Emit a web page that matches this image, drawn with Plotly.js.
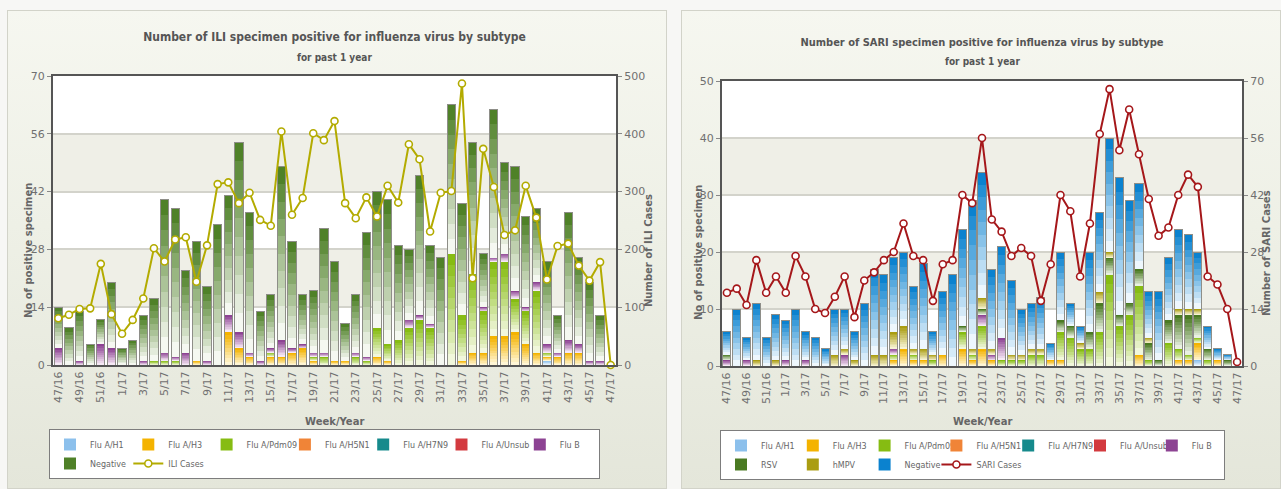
<!DOCTYPE html>
<html>
<head>
<meta charset="utf-8">
<script src="https://cdn.plot.ly/plotly-3.0.1.min.js"></script>
<style>
  html, body { margin:0; padding:0; width:1281px; height:489px; overflow:hidden; background:#f7f7f5; }
  .panel { position:absolute; top:10px; height:479px;
    background:linear-gradient(to bottom, #f6f7f0 0%, #eef0e6 45%, #e4e6da 100%);
    box-shadow: inset 0 0 0 1px #d2d3c9; }
  #ili { left:7px; width:660px; }
  #sari { left:681px; width:600px; }
</style>
</head>
<body>
<div id="ili" class="panel"></div>
<div id="sari" class="panel"></div>
<script>
// ---------- categories ----------
const weeks = ['47/16','48/16','49/16','50/16','51/16','52/16',
  '1/17','2/17','3/17','4/17','5/17','6/17','7/17','8/17','9/17','10/17',
  '11/17','12/17','13/17','14/17','15/17','16/17','17/17','18/17','19/17','20/17',
  '21/17','22/17','23/17','24/17','25/17','26/17','27/17','28/17','29/17','30/17',
  '31/17','32/17','33/17','34/17','35/17','36/17','37/17','38/17','39/17','40/17',
  '41/17','42/17','43/17','44/17','45/17','46/17','47/17'];
const weekTicks = ['47/16','49/16','51/16','1/17','3/17','5/17','7/17','9/17','11/17','13/17',
  '15/17','17/17','19/17','21/17','23/17','25/17','27/17','29/17','31/17','33/17',
  '35/17','37/17','39/17','41/17','43/17','45/17','47/17'];

// ---------- ILI chart values ----------
const NONE      = [0,0,0,0,0,0,0,0,0,0, 0,0,0,0,0,0,0,0,0,0, 0,0,0,0,0,0,0,0,0,0, 0,0,0,0,0,0,0,0,0,0, 0,0,0,0,0,0,0,0,0,0, 0,0,0];
const iliH1     = [0,0,0,0,0,0,0,0,0,0, 0,0,0,0,0,0,0,0,0,0, 0,0,0,0,0,0,0,0,0,0, 0,0,0,0,0,0,0,0,0,0, 0,0,0,0,0,0,1,0,0,0, 0,0,0];
const iliH3     = [0,0,0,0,0,0,0,0,0,0, 0,0,0,1,0,0,8,4,2,0, 2,2,3,4,1,0,1,1,0,0, 2,1,0,0,0,0,0,0,1,3, 3,7,7,8,5,3,1,2,3,3, 0,0,0];
const iliPdm09  = [0,0,0,0,0,0,0,0,0,1, 1,1,0,0,0,0,0,0,0,0, 1,0,0,0,1,2,0,0,2,1, 7,4,6,9,11,9,0,27,11,19, 10,18,18,8,8,15,1,0,0,0, 0,0,0];
const iliFluB   = [4,0,1,0,5,4,0,0,1,0, 2,1,3,0,1,0,4,4,1,1, 1,4,1,1,1,1,0,0,1,1, 0,0,0,2,1,1,0,0,0,0, 1,1,2,2,1,2,2,1,3,2, 1,1,0];
const iliNeg    = [10,9,12,5,6,16,4,6,11,15, 37,36,20,29,18,34,29,46,34,12, 13,42,26,12,15,30,24,9,14,30, 33,35,23,17,34,19,26,36,27,32, 13,36,22,30,22,18,20,9,31,21, 19,11,0];
const iliTotal  = [14,9,13,5,11,20,4,6,12,16, 40,38,23,30,19,34,41,54,37,13, 17,48,30,17,18,33,25,10,17,32, 42,40,29,28,46,29,26,63,39,54, 27,62,49,48,36,38,25,12,37,26, 20,12,0];
const iliCases  = [81,87,97,98,175,88,54,78,115,202, 179,217,221,144,207,313,316,280,298,251, 241,404,260,289,401,389,422,280,254,290, 257,310,281,382,356,231,298,301,487,150, 374,308,225,233,310,255,148,206,210,172, 146,178,0];
const iliLeftTicks  = [0,14,28,42,56,70];
const iliRightTicks = [0,100,200,300,400,500];

// ---------- SARI chart values ----------
const sariH1    = [0,0,0,0,0,0,0,0,0,0, 0,0,0,0,0,0,0,0,0,0, 0,0,0,0,0,0,0,0,0,0, 0,0,0,0,0,0,0,0,0,0, 0,0,0,0,0,0,0,0,1,0, 0,0,0];
const sariH3    = [0,0,0,0,0,0,0,0,0,0, 0,0,0,0,0,0,0,1,3,1, 1,0,2,0,3,1,3,1,0,0, 0,0,0,1,1,0,0,0,0,0, 0,0,2,0,0,0,1,1,3,0, 1,0,0];
const sariPdm09 = [0,0,0,0,0,0,0,0,0,0, 0,0,0,0,0,0,0,1,0,1, 0,1,0,0,3,1,4,0,1,1, 1,2,2,0,5,5,3,3,6,16, 7,9,12,1,0,4,2,1,1,1, 0,0,0];
const sariFluB  = [1,0,1,0,0,0,1,0,1,0, 0,0,2,0,0,0,0,1,0,0, 0,0,0,0,0,0,2,1,4,0, 0,0,0,0,0,0,0,0,0,0, 0,0,0,0,0,0,0,0,0,0, 0,0,0];
const sariRSV   = [1,0,0,0,0,0,0,0,0,0, 0,0,0,0,0,0,0,0,0,0, 0,0,0,0,1,0,1,0,0,0, 0,0,0,0,2,2,0,3,5,3, 2,2,3,3,1,4,6,7,4,2, 0,1,0];
const sariHMPV  = [0,0,0,1,0,1,0,0,0,0, 0,2,1,1,0,2,2,3,4,1, 2,1,0,0,0,1,2,1,0,1, 1,1,1,0,0,0,1,0,2,1, 0,0,0,1,0,0,1,1,1,0, 0,0,0];
const sariNeg   = [4,10,4,10,5,8,7,10,5,5, 3,8,7,5,11,15,14,13,13,11, 15,4,11,16,17,26,22,14,16,13, 8,8,9,3,12,4,3,14,14,20, 24,18,15,8,12,11,14,13,10,4, 2,1,0];
const sariTotal = [6,10,5,11,5,9,8,10,6,5, 3,10,10,6,11,17,16,19,20,14, 18,6,13,16,24,29,34,17,21,15, 10,11,12,4,20,11,7,20,27,40, 33,29,32,13,13,19,24,23,20,7, 3,2,0];
const sariCases = [18,19,15,26,18,22,18,27,22,14, 13,17,22,12,21,23,26,28,35,27, 26,16,25,26,42,40,56,36,33,27, 29,27,16,25,42,38,22,35,57,68, 53,63,52,41,32,34,42,47,44,22, 20,14,1];
const sariLeftTicks  = [0,10,20,30,40,50];
const sariRightTicks = [0,14,28,42,56,70];

// ---------- drawing helpers ----------
const STEPS = 10;   // vertical gradient steps per stacked segment
function hex(c){ c = c.replace('#',''); return [0,2,4].map(i => parseInt(c.slice(i,i+2),16)); }
function mix(a,b,t){ const A = hex(a), B = hex(b); return 'rgb(' + A.map((v,i) => Math.round(v + (B[i]-v)*t)).join(',') + ')'; }

const LABEL_FONT = 'DejaVu Sans, Verdana, sans-serif';
const TITLE_FONT = "'DejaVu Sans Condensed', 'Liberation Sans', sans-serif";

function drawChart(id, o){
  const m = o.margin, pw = o.W - m.l - m.r, ph = o.H - m.t - m.b;
  const px = x => (x - m.l) / pw, py = y => 1 - (y - m.t) / ph;
  const data = [];
  o.series.forEach(s => {
    for (let k = 0; k < STEPS; k++) {
      const t = k / (STEPS - 1);
      data.push({
        type:'bar', x: weeks, y: s.values.map(v => v / STEPS), customdata: s.values,
        name: s.name, legendgroup: s.name, showlegend: k === STEPS - 1,
        marker:{ color: mix(s.light, s.dark, t), line:{ width:0 } },
        hovertemplate: '%{x}<br>' + s.name + ': %{customdata}<extra></extra>'
      });
    }
  });
  data.push({ type:'bar', x: weeks, y: o.totals, xaxis:'x2', yaxis:'y', showlegend:false, hoverinfo:'skip',
    marker:{ color:'rgba(0,0,0,0)', line:{ color:'#8e8e88', width:1 } } });
  data.push({ type:'scatter', mode:'lines+markers', x: weeks, y: o.line.values, name: o.line.name,
    xaxis:'x2', yaxis:'y2', cliponaxis:false,
    line:{ color:o.line.color, width:2 },
    marker:{ symbol:'circle', size:7, color:'#ffffff', line:{ color:o.line.color, width:1.6 } } });

  const tickFont = { family: LABEL_FONT, size: 11, color:'#707070' };
  const shapes = [];
  for (let i = 1; i < o.yTicks.length - 1; i += 2) {
    shapes.push({ type:'rect', xref:'paper', x0:0, x1:1, yref:'y', y0:o.yTicks[i], y1:o.yTicks[i+1],
      fillcolor:'#efefe7', line:{ width:0 }, layer:'below' });
  }
  const axTitle = { family: LABEL_FONT, size: 10, color:'#666666' };
  const layout = {
    width:o.W, height:o.H, margin:{ l:m.l, r:m.r, t:m.t, b:m.b, autoexpand:false },
    paper_bgcolor:'rgba(0,0,0,0)', plot_bgcolor:'#ffffff',
    barmode:'stack', bargap:o.bargap,
    title:{ text:'<b>' + o.title + '</b>', font:{ family:TITLE_FONT, size:o.titleSize, color:'#555555' },
      x:0.5, xref:'paper', xanchor:'center', y: 1 - o.titleY / o.H, yref:'container', yanchor:'middle' },
    xaxis:{ type:'category', categoryorder:'array', categoryarray:weeks, range:[-0.5, weeks.length - 0.5],
      tickmode:'array', tickvals:weekTicks, ticktext:weekTicks, tickangle:-90, tickfont:tickFont,
      showline:true, linecolor:'#555555', linewidth:2, mirror:true, ticks:'', showgrid:false, zeroline:false },
    xaxis2:{ type:'category', categoryorder:'array', categoryarray:weeks, range:[-0.5, weeks.length - 0.5],
      overlaying:'x', visible:false },
    yaxis:{ range:[0, o.yTicks[o.yTicks.length-1]], tickmode:'array', tickvals:o.yTicks, tickfont:tickFont,
      showline:true, linecolor:'#555555', linewidth:2, ticks:'outside', ticklen:4, tickcolor:'#888888',
      showgrid:true, gridcolor:'#d3d3cb', gridwidth:2, zeroline:false },
    yaxis2:{ range:[0, o.y2Ticks[o.y2Ticks.length-1]], tickmode:'array', tickvals:o.y2Ticks, tickfont:tickFont,
      overlaying:'y', side:'right', showline:true, linecolor:'#555555', linewidth:2, ticks:'outside', ticklen:4,
      tickcolor:'#888888', showgrid:false, zeroline:false },
    legend:{ orientation:'h', x:px(o.legend.x), xanchor:'left', y:py(o.legend.y), yanchor:'top',
      entrywidth:o.legend.entry, entrywidthmode:'pixels', traceorder:'normal',
      bgcolor:'#ffffff', bordercolor:'#7d7d7d', borderwidth:1,
      font:{ family:LABEL_FONT, size:8, color:'#666666' } },
    shapes: shapes,
    annotations:[
      { text:'<b>' + o.subtitle + '</b>', xref:'paper', yref:'paper', x:0.5, y:py(o.subY), showarrow:false,
        xanchor:'center', yanchor:'middle', font:{ family:TITLE_FONT, size:o.subSize, color:'#555555' } },
      { text:'<b>' + o.yTitle + '</b>', xref:'paper', yref:'paper', x:px(o.yTitleX), y:py(o.axTitleY),
        textangle:-90, showarrow:false, xanchor:'center', yanchor:'middle', font:axTitle },
      { text:'<b>' + o.y2Title + '</b>', xref:'paper', yref:'paper', x:px(o.y2TitleX), y:py(o.axTitleY),
        textangle:-90, showarrow:false, xanchor:'center', yanchor:'middle', font:axTitle },
      { text:'<b>Week/Year</b>', xref:'paper', yref:'paper', x:0.5, y:py(o.xTitleY), showarrow:false,
        xanchor:'center', yanchor:'middle', font:{ family:LABEL_FONT, size:10, color:'#666666' } }
    ]
  };
  Plotly.newPlot(id, data, layout, { staticPlot:true });
}

// ---------- ILI ----------
drawChart('ili', {
  W:660, H:479, margin:{ l:46, r:51, t:66, b:124 }, bargap:0.22,
  title:'Number of ILI specimen positive for influenza virus by subtype', titleSize:12, titleY:27,
  subtitle:'for past 1 year', subSize:10, subY:47,
  yTitle:'No of positive specimen', y2Title:'Number of ILI Cases', yTitleX:21, y2TitleX:641, axTitleY:241,
  xTitleY:411,
  yTicks:iliLeftTicks, y2Ticks:iliRightTicks,
  legend:{ x:42, y:419, entry:33.3 },
  series:[
    { name:'Flu A/H1',    values:iliH1,    light:'#f0f7fd', dark:'#8cc0ec' },
    { name:'Flu A/H3',    values:iliH3,    light:'#fff6d6', dark:'#f4b300' },
    { name:'Flu A/Pdm09', values:iliPdm09, light:'#f1f7dc', dark:'#86bc12' },
    { name:'Flu A/H5N1',  values:NONE,     light:'#fde9da', dark:'#f08437' },
    { name:'Flu A/H7N9',  values:NONE,     light:'#d9efef', dark:'#168a8c' },
    { name:'Flu A/Unsub', values:NONE,     light:'#f9dede', dark:'#d33a3f' },
    { name:'Flu B',       values:iliFluB,  light:'#f6e9f5', dark:'#8d4393' },
    { name:'Negative',    values:iliNeg,   light:'#f5f8f1', dark:'#4f8128' }
  ],
  totals:iliTotal,
  line:{ name:'ILI Cases', values:iliCases, color:'#b3ab00' }
});

// ---------- SARI ----------
drawChart('sari', {
  W:600, H:479, margin:{ l:41, r:39, t:71, b:123 }, bargap:0.18,
  title:'Number of SARI specimen positive for influenza virus by subtype', titleSize:11, titleY:32,
  subtitle:'for past 1 year', subSize:10, subY:51,
  yTitle:'No of positive specimen', y2Title:'Number of SARI Cases', yTitleX:17, y2TitleX:585, axTitleY:243,
  xTitleY:411.7,
  yTicks:sariLeftTicks, y2Ticks:sariRightTicks,
  legend:{ x:39, y:420, entry:26.8 },
  series:[
    { name:'Flu A/H1',    values:sariH1,    light:'#f0f7fd', dark:'#8cc0ec' },
    { name:'Flu A/H3',    values:sariH3,    light:'#fff6d6', dark:'#f4b300' },
    { name:'Flu A/Pdm09', values:sariPdm09, light:'#f1f7dc', dark:'#86bc12' },
    { name:'Flu A/H5N1',  values:NONE,      light:'#fde9da', dark:'#f08437' },
    { name:'Flu A/H7N9',  values:NONE,      light:'#d9efef', dark:'#168a8c' },
    { name:'Flu A/Unsub', values:NONE,      light:'#f9dede', dark:'#d33a3f' },
    { name:'Flu B',       values:sariFluB,  light:'#f6e9f5', dark:'#8d4393' },
    { name:'RSV',         values:sariRSV,   light:'#e9f0e2', dark:'#4a7a22' },
    { name:'hMPV',        values:sariHMPV,  light:'#f7f3d4', dark:'#aa9d12' },
    { name:'Negative',    values:sariNeg,   light:'#eef7fd', dark:'#0b82cf' }
  ],
  totals:sariTotal,
  line:{ name:'SARI Cases', values:sariCases, color:'#a5171a' }
});
</script>
</body>
</html>
